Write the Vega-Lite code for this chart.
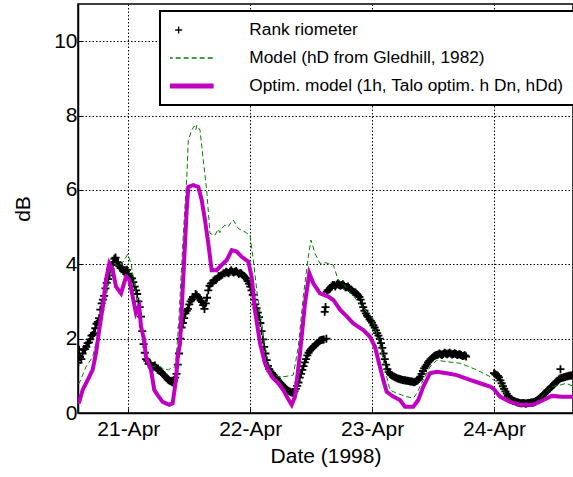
{
"$schema": "https://vega.github.io/schema/vega-lite/v6.json",
"width": 495, "height": 409,
"autosize": {"type": "none"},
"padding": {"left": 78, "top": 4, "right": 0, "bottom": 64},
"background": "white",
"config": {
  "font": "Liberation Sans",
  "view": {"stroke": "black", "strokeWidth": 1.5},
  "axis": {"labelFont": "Liberation Sans", "titleFont": "Liberation Sans", "labelColor": "black", "titleColor": "black", "labelFontSize": 21, "titleFontSize": 21, "titleFontWeight": "normal", "domainColor": "black", "domainWidth": 1.5, "tickColor": "black", "tickSize": -5, "gridColor": "black", "gridDash": [1.5, 2], "gridOpacity": 1, "gridWidth": 1}
},
"data": {"values": [
{"s":"R","t":"1998-04-20T14:10","v":1.35},{"s":"R","t":"1998-04-20T14:20","v":1.70},
{"s":"R","t":"1998-04-20T14:30","v":1.50},{"s":"R","t":"1998-04-20T15:00","v":1.60},{"s":"R","t":"1998-04-20T15:30","v":1.72},{"s":"R","t":"1998-04-20T16:00","v":1.88},{"s":"R","t":"1998-04-20T16:30","v":1.98},{"s":"R","t":"1998-04-20T17:00","v":2.10},{"s":"R","t":"1998-04-20T17:30","v":2.28},{"s":"R","t":"1998-04-20T18:00","v":2.45},{"s":"R","t":"1998-04-20T18:30","v":2.78},{"s":"R","t":"1998-04-20T19:00","v":3.05},{"s":"R","t":"1998-04-20T19:30","v":3.35},{"s":"R","t":"1998-04-20T20:00","v":3.60},{"s":"R","t":"1998-04-20T20:30","v":3.88},{"s":"R","t":"1998-04-20T21:00","v":4.05},{"s":"R","t":"1998-04-20T21:30","v":4.18},{"s":"R","t":"1998-04-20T22:00","v":4.05},{"s":"R","t":"1998-04-20T22:30","v":3.90},{"s":"R","t":"1998-04-20T23:00","v":3.82},{"s":"R","t":"1998-04-20T23:30","v":3.80},
{"s":"R","t":"1998-04-20T14:45","v":1.45},{"s":"R","t":"1998-04-20T15:15","v":1.72},{"s":"R","t":"1998-04-20T15:45","v":1.78},{"s":"R","t":"1998-04-20T16:15","v":1.90},{"s":"R","t":"1998-04-20T16:45","v":2.08},{"s":"R","t":"1998-04-20T17:15","v":2.15},{"s":"R","t":"1998-04-20T17:45","v":2.40},{"s":"R","t":"1998-04-20T18:15","v":2.55},{"s":"R","t":"1998-04-20T18:45","v":2.95},{"s":"R","t":"1998-04-20T19:15","v":3.15},{"s":"R","t":"1998-04-20T19:45","v":3.50},{"s":"R","t":"1998-04-20T20:15","v":3.70},{"s":"R","t":"1998-04-20T20:45","v":3.98},{"s":"R","t":"1998-04-20T21:15","v":4.15},{"s":"R","t":"1998-04-20T21:45","v":4.05},{"s":"R","t":"1998-04-20T22:15","v":3.95},{"s":"R","t":"1998-04-20T22:45","v":3.92},{"s":"R","t":"1998-04-20T23:15","v":3.78},{"s":"R","t":"1998-04-20T23:45","v":3.85},
{"s":"R","t":"1998-04-21T00:00","v":3.75},{"s":"R","t":"1998-04-21T00:30","v":3.62},{"s":"R","t":"1998-04-21T01:00","v":3.52},{"s":"R","t":"1998-04-21T01:30","v":3.30},{"s":"R","t":"1998-04-21T02:00","v":3.00},{"s":"R","t":"1998-04-21T02:30","v":2.59},{"s":"R","t":"1998-04-21T03:00","v":1.85},{"s":"R","t":"1998-04-21T03:30","v":1.45},{"s":"R","t":"1998-04-21T04:00","v":1.32},{"s":"R","t":"1998-04-21T04:30","v":1.28},{"s":"R","t":"1998-04-21T05:00","v":1.26},{"s":"R","t":"1998-04-21T05:30","v":1.22},{"s":"R","t":"1998-04-21T06:00","v":1.15},{"s":"R","t":"1998-04-21T06:30","v":1.10},{"s":"R","t":"1998-04-21T07:00","v":1.02},{"s":"R","t":"1998-04-21T07:30","v":0.95},{"s":"R","t":"1998-04-21T08:00","v":0.88},{"s":"R","t":"1998-04-21T08:30","v":0.84},{"s":"R","t":"1998-04-21T09:00","v":0.88},{"s":"R","t":"1998-04-21T09:30","v":1.05},{"s":"R","t":"1998-04-21T10:00","v":1.60},{"s":"R","t":"1998-04-21T10:30","v":2.30},{"s":"R","t":"1998-04-21T11:00","v":2.55},{"s":"R","t":"1998-04-21T11:30","v":2.75},{"s":"R","t":"1998-04-21T12:00","v":2.92},{"s":"R","t":"1998-04-21T12:30","v":3.06},{"s":"R","t":"1998-04-21T13:00","v":3.12},{"s":"R","t":"1998-04-21T13:30","v":3.17},{"s":"R","t":"1998-04-21T14:00","v":3.08},{"s":"R","t":"1998-04-21T14:30","v":2.98},{"s":"R","t":"1998-04-21T15:00","v":2.80},{"s":"R","t":"1998-04-21T15:30","v":3.10},{"s":"R","t":"1998-04-21T16:00","v":3.42},{"s":"R","t":"1998-04-21T16:30","v":3.50},{"s":"R","t":"1998-04-21T17:00","v":3.57},{"s":"R","t":"1998-04-21T17:30","v":3.62},{"s":"R","t":"1998-04-21T18:00","v":3.68},{"s":"R","t":"1998-04-21T18:30","v":3.72},{"s":"R","t":"1998-04-21T19:00","v":3.76},{"s":"R","t":"1998-04-21T19:30","v":3.78},{"s":"R","t":"1998-04-21T20:00","v":3.80},{"s":"R","t":"1998-04-21T20:30","v":3.80},{"s":"R","t":"1998-04-21T21:00","v":3.80},{"s":"R","t":"1998-04-21T21:30","v":3.78},{"s":"R","t":"1998-04-21T22:00","v":3.76},{"s":"R","t":"1998-04-21T22:30","v":3.72},{"s":"R","t":"1998-04-21T23:00","v":3.65},{"s":"R","t":"1998-04-21T23:30","v":3.55},
{"s":"R","t":"1998-04-21T00:15","v":3.66},{"s":"R","t":"1998-04-21T00:45","v":3.62},{"s":"R","t":"1998-04-21T01:15","v":3.40},{"s":"R","t":"1998-04-21T01:45","v":3.20},{"s":"R","t":"1998-04-21T02:15","v":2.85},{"s":"R","t":"1998-04-21T02:45","v":2.20},{"s":"R","t":"1998-04-21T03:15","v":1.62},{"s":"R","t":"1998-04-21T03:45","v":1.40},{"s":"R","t":"1998-04-21T04:15","v":1.35},{"s":"R","t":"1998-04-21T04:45","v":1.22},{"s":"R","t":"1998-04-21T05:15","v":1.28},{"s":"R","t":"1998-04-21T05:45","v":1.16},{"s":"R","t":"1998-04-21T06:15","v":1.14},{"s":"R","t":"1998-04-21T06:45","v":1.05},{"s":"R","t":"1998-04-21T07:15","v":0.99},{"s":"R","t":"1998-04-21T07:45","v":0.90},{"s":"R","t":"1998-04-21T08:15","v":0.86},{"s":"R","t":"1998-04-21T08:45","v":0.82},{"s":"R","t":"1998-04-21T09:15","v":0.95},{"s":"R","t":"1998-04-21T09:45","v":1.30},{"s":"R","t":"1998-04-21T10:15","v":2.00},{"s":"R","t":"1998-04-21T10:45","v":2.42},{"s":"R","t":"1998-04-21T11:15","v":2.68},{"s":"R","t":"1998-04-21T11:45","v":2.80},{"s":"R","t":"1998-04-21T12:15","v":3.00},{"s":"R","t":"1998-04-21T12:45","v":3.12},{"s":"R","t":"1998-04-21T13:15","v":3.20},{"s":"R","t":"1998-04-21T13:45","v":3.12},{"s":"R","t":"1998-04-21T14:15","v":3.02},{"s":"R","t":"1998-04-21T14:45","v":2.90},{"s":"R","t":"1998-04-21T15:15","v":2.95},{"s":"R","t":"1998-04-21T15:45","v":3.30},{"s":"R","t":"1998-04-21T16:15","v":3.48},{"s":"R","t":"1998-04-21T16:45","v":3.56},{"s":"R","t":"1998-04-21T17:15","v":3.58},{"s":"R","t":"1998-04-21T17:45","v":3.68},{"s":"R","t":"1998-04-21T18:15","v":3.70},{"s":"R","t":"1998-04-21T18:45","v":3.76},{"s":"R","t":"1998-04-21T19:15","v":3.80},{"s":"R","t":"1998-04-21T19:45","v":3.76},{"s":"R","t":"1998-04-21T20:15","v":3.84},{"s":"R","t":"1998-04-21T20:45","v":3.78},{"s":"R","t":"1998-04-21T21:15","v":3.82},{"s":"R","t":"1998-04-21T21:45","v":3.74},{"s":"R","t":"1998-04-21T22:15","v":3.76},{"s":"R","t":"1998-04-21T22:45","v":3.68},{"s":"R","t":"1998-04-21T23:15","v":3.62},{"s":"R","t":"1998-04-21T23:45","v":3.48},
{"s":"R","t":"1998-04-22T00:00","v":3.40},{"s":"R","t":"1998-04-22T00:30","v":3.18},{"s":"R","t":"1998-04-22T01:00","v":2.92},{"s":"R","t":"1998-04-22T01:30","v":2.70},{"s":"R","t":"1998-04-22T02:00","v":2.42},{"s":"R","t":"1998-04-22T02:30","v":1.98},{"s":"R","t":"1998-04-22T03:00","v":1.60},{"s":"R","t":"1998-04-22T03:30","v":1.27},{"s":"R","t":"1998-04-22T04:00","v":1.12},{"s":"R","t":"1998-04-22T04:30","v":1.03},{"s":"R","t":"1998-04-22T05:00","v":0.96},{"s":"R","t":"1998-04-22T05:30","v":0.88},{"s":"R","t":"1998-04-22T06:00","v":0.79},{"s":"R","t":"1998-04-22T06:30","v":0.72},{"s":"R","t":"1998-04-22T07:00","v":0.65},{"s":"R","t":"1998-04-22T07:30","v":0.60},{"s":"R","t":"1998-04-22T08:00","v":0.56},{"s":"R","t":"1998-04-22T08:30","v":0.53},{"s":"R","t":"1998-04-22T09:00","v":0.65},{"s":"R","t":"1998-04-22T09:30","v":0.82},{"s":"R","t":"1998-04-22T10:00","v":1.05},{"s":"R","t":"1998-04-22T10:30","v":1.26},{"s":"R","t":"1998-04-22T11:00","v":1.45},{"s":"R","t":"1998-04-22T11:30","v":1.62},{"s":"R","t":"1998-04-22T12:00","v":1.72},{"s":"R","t":"1998-04-22T12:30","v":1.79},{"s":"R","t":"1998-04-22T13:00","v":1.85},{"s":"R","t":"1998-04-22T13:30","v":1.92},{"s":"R","t":"1998-04-22T14:00","v":1.96},{"s":"R","t":"1998-04-22T14:30","v":1.98},{"s":"R","t":"1998-04-22T15:00","v":2.00},
{"s":"R","t":"1998-04-22T00:15","v":3.30},{"s":"R","t":"1998-04-22T00:45","v":3.05},{"s":"R","t":"1998-04-22T01:15","v":2.82},{"s":"R","t":"1998-04-22T01:45","v":2.58},{"s":"R","t":"1998-04-22T02:15","v":2.20},{"s":"R","t":"1998-04-22T02:45","v":1.78},{"s":"R","t":"1998-04-22T03:15","v":1.42},{"s":"R","t":"1998-04-22T03:45","v":1.18},{"s":"R","t":"1998-04-22T04:15","v":1.08},{"s":"R","t":"1998-04-22T04:45","v":0.98},{"s":"R","t":"1998-04-22T05:15","v":0.93},{"s":"R","t":"1998-04-22T05:45","v":0.83},{"s":"R","t":"1998-04-22T06:15","v":0.76},{"s":"R","t":"1998-04-22T06:45","v":0.68},{"s":"R","t":"1998-04-22T07:15","v":0.62},{"s":"R","t":"1998-04-22T07:45","v":0.58},{"s":"R","t":"1998-04-22T08:15","v":0.55},{"s":"R","t":"1998-04-22T08:45","v":0.58},{"s":"R","t":"1998-04-22T09:15","v":0.73},{"s":"R","t":"1998-04-22T09:45","v":0.95},{"s":"R","t":"1998-04-22T10:15","v":1.16},{"s":"R","t":"1998-04-22T10:45","v":1.36},{"s":"R","t":"1998-04-22T11:15","v":1.55},{"s":"R","t":"1998-04-22T11:45","v":1.68},{"s":"R","t":"1998-04-22T12:15","v":1.76},{"s":"R","t":"1998-04-22T12:45","v":1.82},{"s":"R","t":"1998-04-22T13:15","v":1.88},{"s":"R","t":"1998-04-22T13:45","v":1.95},{"s":"R","t":"1998-04-22T14:15","v":1.97},
{"s":"R","t":"1998-04-22T14:40","v":2.72},{"s":"R","t":"1998-04-22T14:50","v":2.85},{"s":"R","t":"1998-04-22T15:05","v":3.26},{"s":"R","t":"1998-04-22T15:30","v":3.32},{"s":"R","t":"1998-04-22T16:00","v":3.40},{"s":"R","t":"1998-04-22T16:30","v":3.44},{"s":"R","t":"1998-04-22T17:00","v":3.45},{"s":"R","t":"1998-04-22T17:30","v":3.44},{"s":"R","t":"1998-04-22T18:00","v":3.44},{"s":"R","t":"1998-04-22T18:30","v":3.42},{"s":"R","t":"1998-04-22T19:00","v":3.38},{"s":"R","t":"1998-04-22T19:30","v":3.36},{"s":"R","t":"1998-04-22T20:00","v":3.30},{"s":"R","t":"1998-04-22T20:30","v":3.25},{"s":"R","t":"1998-04-22T21:00","v":3.20},{"s":"R","t":"1998-04-22T21:30","v":3.12},{"s":"R","t":"1998-04-22T22:00","v":2.95},{"s":"R","t":"1998-04-22T22:30","v":2.75},{"s":"R","t":"1998-04-22T23:00","v":2.62},{"s":"R","t":"1998-04-22T23:30","v":2.52},
{"s":"R","t":"1998-04-22T15:15","v":3.30},{"s":"R","t":"1998-04-22T15:45","v":3.36},{"s":"R","t":"1998-04-22T16:15","v":3.44},{"s":"R","t":"1998-04-22T16:45","v":3.40},{"s":"R","t":"1998-04-22T17:15","v":3.48},{"s":"R","t":"1998-04-22T17:45","v":3.42},{"s":"R","t":"1998-04-22T18:15","v":3.46},{"s":"R","t":"1998-04-22T18:45","v":3.38},{"s":"R","t":"1998-04-22T19:15","v":3.40},{"s":"R","t":"1998-04-22T19:45","v":3.32},{"s":"R","t":"1998-04-22T20:15","v":3.26},{"s":"R","t":"1998-04-22T20:45","v":3.24},{"s":"R","t":"1998-04-22T21:15","v":3.16},{"s":"R","t":"1998-04-22T21:45","v":3.05},{"s":"R","t":"1998-04-22T22:15","v":2.85},{"s":"R","t":"1998-04-22T22:45","v":2.68},{"s":"R","t":"1998-04-22T23:15","v":2.58},{"s":"R","t":"1998-04-22T23:45","v":2.48},
{"s":"R","t":"1998-04-23T00:00","v":2.43},{"s":"R","t":"1998-04-23T00:30","v":2.30},{"s":"R","t":"1998-04-23T01:00","v":2.15},{"s":"R","t":"1998-04-23T01:30","v":2.00},{"s":"R","t":"1998-04-23T02:00","v":1.75},{"s":"R","t":"1998-04-23T02:30","v":1.45},{"s":"R","t":"1998-04-23T03:00","v":1.18},{"s":"R","t":"1998-04-23T03:30","v":1.05},{"s":"R","t":"1998-04-23T04:00","v":1.00},{"s":"R","t":"1998-04-23T04:30","v":0.96},{"s":"R","t":"1998-04-23T05:00","v":0.93},{"s":"R","t":"1998-04-23T05:30","v":0.91},{"s":"R","t":"1998-04-23T06:00","v":0.89},{"s":"R","t":"1998-04-23T06:30","v":0.88},{"s":"R","t":"1998-04-23T07:00","v":0.87},{"s":"R","t":"1998-04-23T07:30","v":0.85},{"s":"R","t":"1998-04-23T08:00","v":0.84},{"s":"R","t":"1998-04-23T08:30","v":0.84},{"s":"R","t":"1998-04-23T09:00","v":0.88},{"s":"R","t":"1998-04-23T09:30","v":0.98},{"s":"R","t":"1998-04-23T10:00","v":1.13},{"s":"R","t":"1998-04-23T10:30","v":1.25},{"s":"R","t":"1998-04-23T11:00","v":1.36},{"s":"R","t":"1998-04-23T11:30","v":1.44},{"s":"R","t":"1998-04-23T12:00","v":1.50},{"s":"R","t":"1998-04-23T12:30","v":1.55},{"s":"R","t":"1998-04-23T13:00","v":1.57},{"s":"R","t":"1998-04-23T13:30","v":1.58},{"s":"R","t":"1998-04-23T14:00","v":1.59},{"s":"R","t":"1998-04-23T14:30","v":1.60},{"s":"R","t":"1998-04-23T15:00","v":1.60},{"s":"R","t":"1998-04-23T15:30","v":1.60},{"s":"R","t":"1998-04-23T16:00","v":1.59},{"s":"R","t":"1998-04-23T16:30","v":1.59},{"s":"R","t":"1998-04-23T17:00","v":1.57},{"s":"R","t":"1998-04-23T17:30","v":1.56},{"s":"R","t":"1998-04-23T18:00","v":1.54},{"s":"R","t":"1998-04-23T18:30","v":1.52},
{"s":"R","t":"1998-04-23T00:15","v":2.36},{"s":"R","t":"1998-04-23T00:45","v":2.22},{"s":"R","t":"1998-04-23T01:15","v":2.08},{"s":"R","t":"1998-04-23T01:45","v":1.88},{"s":"R","t":"1998-04-23T02:15","v":1.60},{"s":"R","t":"1998-04-23T02:45","v":1.30},{"s":"R","t":"1998-04-23T03:15","v":1.10},{"s":"R","t":"1998-04-23T03:45","v":1.02},{"s":"R","t":"1998-04-23T04:15","v":0.98},{"s":"R","t":"1998-04-23T04:45","v":0.95},{"s":"R","t":"1998-04-23T05:15","v":0.92},{"s":"R","t":"1998-04-23T05:45","v":0.90},{"s":"R","t":"1998-04-23T06:15","v":0.88},{"s":"R","t":"1998-04-23T06:45","v":0.87},{"s":"R","t":"1998-04-23T07:15","v":0.86},{"s":"R","t":"1998-04-23T07:45","v":0.85},{"s":"R","t":"1998-04-23T08:15","v":0.83},{"s":"R","t":"1998-04-23T08:45","v":0.86},{"s":"R","t":"1998-04-23T09:15","v":0.92},{"s":"R","t":"1998-04-23T09:45","v":1.05},{"s":"R","t":"1998-04-23T10:15","v":1.20},{"s":"R","t":"1998-04-23T10:45","v":1.30},{"s":"R","t":"1998-04-23T11:15","v":1.40},{"s":"R","t":"1998-04-23T11:45","v":1.47},{"s":"R","t":"1998-04-23T12:15","v":1.53},{"s":"R","t":"1998-04-23T12:45","v":1.56},{"s":"R","t":"1998-04-23T13:15","v":1.60},{"s":"R","t":"1998-04-23T13:45","v":1.56},{"s":"R","t":"1998-04-23T14:15","v":1.62},{"s":"R","t":"1998-04-23T14:45","v":1.58},{"s":"R","t":"1998-04-23T15:15","v":1.62},{"s":"R","t":"1998-04-23T15:45","v":1.57},{"s":"R","t":"1998-04-23T16:15","v":1.61},{"s":"R","t":"1998-04-23T16:45","v":1.56},{"s":"R","t":"1998-04-23T17:15","v":1.58},{"s":"R","t":"1998-04-23T17:45","v":1.53},{"s":"R","t":"1998-04-23T18:15","v":1.55},
{"s":"R","t":"1998-04-24T00:00","v":1.07},{"s":"R","t":"1998-04-24T00:30","v":1.02},{"s":"R","t":"1998-04-24T01:00","v":0.96},{"s":"R","t":"1998-04-24T01:30","v":0.80},{"s":"R","t":"1998-04-24T02:00","v":0.65},{"s":"R","t":"1998-04-24T02:30","v":0.52},{"s":"R","t":"1998-04-24T03:00","v":0.42},{"s":"R","t":"1998-04-24T03:30","v":0.36},{"s":"R","t":"1998-04-24T04:00","v":0.32},{"s":"R","t":"1998-04-24T04:30","v":0.29},{"s":"R","t":"1998-04-24T05:00","v":0.27},{"s":"R","t":"1998-04-24T05:30","v":0.26},{"s":"R","t":"1998-04-24T06:00","v":0.26},{"s":"R","t":"1998-04-24T06:30","v":0.26},{"s":"R","t":"1998-04-24T07:00","v":0.27},{"s":"R","t":"1998-04-24T07:30","v":0.28},{"s":"R","t":"1998-04-24T08:00","v":0.30},{"s":"R","t":"1998-04-24T08:30","v":0.34},{"s":"R","t":"1998-04-24T09:00","v":0.40},{"s":"R","t":"1998-04-24T09:30","v":0.46},{"s":"R","t":"1998-04-24T10:00","v":0.53},{"s":"R","t":"1998-04-24T10:30","v":0.60},{"s":"R","t":"1998-04-24T11:00","v":0.66},{"s":"R","t":"1998-04-24T11:30","v":0.73},{"s":"R","t":"1998-04-24T12:00","v":0.80},{"s":"R","t":"1998-04-24T12:30","v":0.87},{"s":"R","t":"1998-04-24T13:00","v":0.93},{"s":"R","t":"1998-04-24T13:05","v":1.18},{"s":"R","t":"1998-04-24T13:30","v":0.95},{"s":"R","t":"1998-04-24T14:00","v":0.97},{"s":"R","t":"1998-04-24T14:30","v":0.99},{"s":"R","t":"1998-04-24T15:00","v":1.00},{"s":"R","t":"1998-04-24T15:30","v":1.02},
{"s":"R","t":"1998-04-24T00:15","v":1.04},{"s":"R","t":"1998-04-24T00:45","v":1.00},{"s":"R","t":"1998-04-24T01:15","v":0.88},{"s":"R","t":"1998-04-24T01:45","v":0.72},{"s":"R","t":"1998-04-24T02:15","v":0.58},{"s":"R","t":"1998-04-24T02:45","v":0.46},{"s":"R","t":"1998-04-24T03:15","v":0.38},{"s":"R","t":"1998-04-24T03:45","v":0.33},{"s":"R","t":"1998-04-24T04:15","v":0.30},{"s":"R","t":"1998-04-24T04:45","v":0.28},{"s":"R","t":"1998-04-24T05:15","v":0.26},{"s":"R","t":"1998-04-24T05:45","v":0.27},{"s":"R","t":"1998-04-24T06:15","v":0.25},{"s":"R","t":"1998-04-24T06:45","v":0.27},{"s":"R","t":"1998-04-24T07:15","v":0.28},{"s":"R","t":"1998-04-24T07:45","v":0.29},{"s":"R","t":"1998-04-24T08:15","v":0.32},{"s":"R","t":"1998-04-24T08:45","v":0.37},{"s":"R","t":"1998-04-24T09:15","v":0.43},{"s":"R","t":"1998-04-24T09:45","v":0.50},{"s":"R","t":"1998-04-24T10:15","v":0.56},{"s":"R","t":"1998-04-24T10:45","v":0.63},{"s":"R","t":"1998-04-24T11:15","v":0.70},{"s":"R","t":"1998-04-24T11:45","v":0.76},{"s":"R","t":"1998-04-24T12:15","v":0.84},{"s":"R","t":"1998-04-24T12:45","v":0.90},{"s":"R","t":"1998-04-24T13:15","v":0.94},{"s":"R","t":"1998-04-24T13:45","v":0.96},{"s":"R","t":"1998-04-24T14:15","v":0.98},{"s":"R","t":"1998-04-24T14:45","v":1.00},{"s":"R","t":"1998-04-24T15:15","v":1.01},
{"s":"M","t":"1998-04-20T14:06","v":0.78},{"s":"M","t":"1998-04-20T14:21","v":0.80},{"s":"M","t":"1998-04-20T15:40","v":1.24},{"s":"M","t":"1998-04-20T16:59","v":1.51},{"s":"M","t":"1998-04-20T18:17","v":2.23},{"s":"M","t":"1998-04-20T19:37","v":3.13},{"s":"M","t":"1998-04-20T20:35","v":3.76},{"s":"M","t":"1998-04-20T21:14","v":4.03},{"s":"M","t":"1998-04-20T22:14","v":3.93},{"s":"M","t":"1998-04-20T23:13","v":4.11},{"s":"M","t":"1998-04-20T23:53","v":4.27},
{"s":"M","t":"1998-04-21T00:32","v":4.02},{"s":"M","t":"1998-04-21T01:11","v":3.49},{"s":"M","t":"1998-04-21T01:51","v":2.86},{"s":"M","t":"1998-04-21T02:50","v":1.96},{"s":"M","t":"1998-04-21T03:49","v":1.42},{"s":"M","t":"1998-04-21T04:48","v":1.24},{"s":"M","t":"1998-04-21T05:48","v":1.28},{"s":"M","t":"1998-04-21T06:46","v":1.20},{"s":"M","t":"1998-04-21T07:53","v":1.16},{"s":"M","t":"1998-04-21T08:36","v":1.22},{"s":"M","t":"1998-04-21T09:11","v":1.24},{"s":"M","t":"1998-04-21T09:24","v":1.45},{"s":"M","t":"1998-04-21T09:54","v":2.35},{"s":"M","t":"1998-04-21T10:24","v":3.70},{"s":"M","t":"1998-04-21T11:00","v":5.20},{"s":"M","t":"1998-04-21T11:30","v":6.30},{"s":"M","t":"1998-04-21T11:49","v":7.34},{"s":"M","t":"1998-04-21T12:29","v":7.61},{"s":"M","t":"1998-04-21T13:00","v":7.72},{"s":"M","t":"1998-04-21T13:18","v":7.62},{"s":"M","t":"1998-04-21T13:28","v":7.74},{"s":"M","t":"1998-04-21T14:07","v":7.61},{"s":"M","t":"1998-04-21T14:46","v":6.80},{"s":"M","t":"1998-04-21T15:26","v":5.99},{"s":"M","t":"1998-04-21T16:05","v":4.83},{"s":"M","t":"1998-04-21T17:04","v":4.78},{"s":"M","t":"1998-04-21T17:42","v":4.95},{"s":"M","t":"1998-04-21T18:00","v":4.85},{"s":"M","t":"1998-04-21T18:23","v":4.96},{"s":"M","t":"1998-04-21T19:00","v":5.05},{"s":"M","t":"1998-04-21T19:41","v":5.01},{"s":"M","t":"1998-04-21T20:12","v":5.12},{"s":"M","t":"1998-04-21T20:40","v":5.19},{"s":"M","t":"1998-04-21T21:40","v":4.96},{"s":"M","t":"1998-04-21T22:59","v":4.87},{"s":"M","t":"1998-04-21T23:58","v":4.78},
{"s":"M","t":"1998-04-22T00:37","v":4.11},{"s":"M","t":"1998-04-22T01:17","v":3.31},{"s":"M","t":"1998-04-22T02:16","v":2.41},{"s":"M","t":"1998-04-22T03:15","v":1.51},{"s":"M","t":"1998-04-22T04:14","v":1.07},{"s":"M","t":"1998-04-22T05:32","v":0.98},{"s":"M","t":"1998-04-22T06:51","v":0.98},{"s":"M","t":"1998-04-22T08:29","v":1.02},{"s":"M","t":"1998-04-22T09:28","v":1.78},{"s":"M","t":"1998-04-22T10:27","v":3.13},{"s":"M","t":"1998-04-22T11:26","v":4.20},{"s":"M","t":"1998-04-22T11:58","v":4.65},{"s":"M","t":"1998-04-22T12:46","v":4.29},{"s":"M","t":"1998-04-22T13:44","v":4.02},{"s":"M","t":"1998-04-22T14:30","v":4.05},{"s":"M","t":"1998-04-22T15:23","v":4.02},{"s":"M","t":"1998-04-22T16:22","v":3.98},{"s":"M","t":"1998-04-22T17:20","v":3.58},{"s":"M","t":"1998-04-22T18:12","v":3.50},{"s":"M","t":"1998-04-22T19:00","v":3.35},{"s":"M","t":"1998-04-22T20:58","v":3.04},{"s":"M","t":"1998-04-22T22:36","v":2.77},{"s":"M","t":"1998-04-22T23:55","v":2.59},
{"s":"M","t":"1998-04-23T00:55","v":2.14},{"s":"M","t":"1998-04-23T02:12","v":1.42},{"s":"M","t":"1998-04-23T02:52","v":0.98},{"s":"M","t":"1998-04-23T03:31","v":0.62},{"s":"M","t":"1998-04-23T04:50","v":0.53},{"s":"M","t":"1998-04-23T06:49","v":0.44},{"s":"M","t":"1998-04-23T08:07","v":0.40},{"s":"M","t":"1998-04-23T08:47","v":0.53},{"s":"M","t":"1998-04-23T10:05","v":0.89},{"s":"M","t":"1998-04-23T11:24","v":1.24},{"s":"M","t":"1998-04-23T12:43","v":1.42},{"s":"M","t":"1998-04-23T14:41","v":1.38},{"s":"M","t":"1998-04-23T17:19","v":1.34},{"s":"M","t":"1998-04-23T20:35","v":1.16},{"s":"M","t":"1998-04-23T23:13","v":0.98},{"s":"M","t":"1998-04-23T23:52","v":0.89},
{"s":"M","t":"1998-04-24T01:11","v":0.80},{"s":"M","t":"1998-04-24T02:29","v":0.44},{"s":"M","t":"1998-04-24T04:28","v":0.22},{"s":"M","t":"1998-04-24T06:26","v":0.17},{"s":"M","t":"1998-04-24T08:04","v":0.26},{"s":"M","t":"1998-04-24T09:43","v":0.48},{"s":"M","t":"1998-04-24T11:22","v":0.71},{"s":"M","t":"1998-04-24T13:00","v":0.75},{"s":"M","t":"1998-04-24T14:12","v":0.80},{"s":"M","t":"1998-04-24T15:33","v":0.72},
{"s":"O","t":"1998-04-20T14:06","v":0.30},{"s":"O","t":"1998-04-20T14:21","v":0.30},{"s":"O","t":"1998-04-20T15:01","v":0.62},{"s":"O","t":"1998-04-20T16:01","v":0.89},{"s":"O","t":"1998-04-20T16:59","v":1.16},{"s":"O","t":"1998-04-20T17:38","v":1.60},{"s":"O","t":"1998-04-20T18:17","v":2.23},{"s":"O","t":"1998-04-20T18:58","v":2.86},{"s":"O","t":"1998-04-20T19:37","v":3.58},{"s":"O","t":"1998-04-20T20:16","v":4.02},{"s":"O","t":"1998-04-20T20:56","v":3.84},{"s":"O","t":"1998-04-20T21:35","v":3.40},{"s":"O","t":"1998-04-20T22:34","v":3.22},{"s":"O","t":"1998-04-20T23:33","v":3.66},
{"s":"O","t":"1998-04-21T00:12","v":3.58},{"s":"O","t":"1998-04-21T00:52","v":3.13},{"s":"O","t":"1998-04-21T01:31","v":2.68},{"s":"O","t":"1998-04-21T02:10","v":2.86},{"s":"O","t":"1998-04-21T02:30","v":2.32},{"s":"O","t":"1998-04-21T03:09","v":1.96},{"s":"O","t":"1998-04-21T03:29","v":1.51},{"s":"O","t":"1998-04-21T04:28","v":1.16},{"s":"O","t":"1998-04-21T05:07","v":0.62},{"s":"O","t":"1998-04-21T05:47","v":0.48},{"s":"O","t":"1998-04-21T06:46","v":0.30},{"s":"O","t":"1998-04-21T08:04","v":0.22},{"s":"O","t":"1998-04-21T08:44","v":0.26},{"s":"O","t":"1998-04-21T09:23","v":0.89},{"s":"O","t":"1998-04-21T09:44","v":1.51},{"s":"O","t":"1998-04-21T10:11","v":1.87},{"s":"O","t":"1998-04-21T10:50","v":3.66},{"s":"O","t":"1998-04-21T11:30","v":5.46},{"s":"O","t":"1998-04-21T11:49","v":6.08},{"s":"O","t":"1998-04-21T12:48","v":6.13},{"s":"O","t":"1998-04-21T13:47","v":6.08},{"s":"O","t":"1998-04-21T14:27","v":5.73},{"s":"O","t":"1998-04-21T15:06","v":5.19},{"s":"O","t":"1998-04-21T15:45","v":4.56},{"s":"O","t":"1998-04-21T16:25","v":3.84},{"s":"O","t":"1998-04-21T17:24","v":3.84},{"s":"O","t":"1998-04-21T18:23","v":3.98},{"s":"O","t":"1998-04-21T19:22","v":4.11},{"s":"O","t":"1998-04-21T20:22","v":4.38},{"s":"O","t":"1998-04-21T21:20","v":4.34},{"s":"O","t":"1998-04-21T22:20","v":4.20},{"s":"O","t":"1998-04-21T23:38","v":4.07},
{"s":"O","t":"1998-04-22T00:17","v":3.66},{"s":"O","t":"1998-04-22T00:56","v":2.77},{"s":"O","t":"1998-04-22T01:56","v":1.87},{"s":"O","t":"1998-04-22T02:55","v":1.34},{"s":"O","t":"1998-04-22T04:14","v":0.98},{"s":"O","t":"1998-04-22T05:32","v":0.80},{"s":"O","t":"1998-04-22T06:31","v":0.62},{"s":"O","t":"1998-04-22T07:11","v":0.44},{"s":"O","t":"1998-04-22T08:10","v":0.22},{"s":"O","t":"1998-04-22T08:49","v":0.44},{"s":"O","t":"1998-04-22T09:48","v":1.60},{"s":"O","t":"1998-04-22T10:47","v":2.95},{"s":"O","t":"1998-04-22T11:38","v":3.76},{"s":"O","t":"1998-04-22T12:25","v":3.49},{"s":"O","t":"1998-04-22T13:44","v":3.22},{"s":"O","t":"1998-04-22T15:23","v":3.13},{"s":"O","t":"1998-04-22T16:22","v":3.04},{"s":"O","t":"1998-04-22T17:44","v":2.77},{"s":"O","t":"1998-04-22T19:03","v":2.59},{"s":"O","t":"1998-04-22T20:18","v":2.41},{"s":"O","t":"1998-04-22T22:16","v":2.23},{"s":"O","t":"1998-04-22T23:35","v":2.05},
{"s":"O","t":"1998-04-23T00:34","v":1.78},{"s":"O","t":"1998-04-23T01:33","v":1.24},{"s":"O","t":"1998-04-23T02:12","v":0.89},{"s":"O","t":"1998-04-23T02:52","v":0.57},{"s":"O","t":"1998-04-23T04:10","v":0.44},{"s":"O","t":"1998-04-23T05:29","v":0.35},{"s":"O","t":"1998-04-23T06:28","v":0.17},{"s":"O","t":"1998-04-23T08:07","v":0.17},{"s":"O","t":"1998-04-23T09:05","v":0.35},{"s":"O","t":"1998-04-23T10:05","v":0.71},{"s":"O","t":"1998-04-23T11:24","v":1.07},{"s":"O","t":"1998-04-23T12:43","v":1.11},{"s":"O","t":"1998-04-23T14:41","v":1.07},{"s":"O","t":"1998-04-23T16:39","v":1.02},{"s":"O","t":"1998-04-23T19:16","v":0.89},{"s":"O","t":"1998-04-23T21:14","v":0.80},{"s":"O","t":"1998-04-23T23:13","v":0.71},{"s":"O","t":"1998-04-23T23:52","v":0.66},
{"s":"O","t":"1998-04-24T01:11","v":0.44},{"s":"O","t":"1998-04-24T03:09","v":0.30},{"s":"O","t":"1998-04-24T05:07","v":0.22},{"s":"O","t":"1998-04-24T07:44","v":0.22},{"s":"O","t":"1998-04-24T09:43","v":0.35},{"s":"O","t":"1998-04-24T11:22","v":0.46},{"s":"O","t":"1998-04-24T13:20","v":0.44},{"s":"O","t":"1998-04-24T15:33","v":0.44}
]},
"encoding": {
  "x": {"field": "t", "type": "temporal",
    "scale": {"domain": [{"year": 1998, "month": 4, "date": 20, "hours": 14, "minutes": 6}, {"year": 1998, "month": 4, "date": 24, "hours": 15, "minutes": 33}]},
    "axis": {"title": "Date (1998)", "format": "%d-%b", "grid": true, "labelPadding": 10, "titlePadding": 6,
      "values": [{"year": 1998, "month": 4, "date": 21}, {"year": 1998, "month": 4, "date": 22}, {"year": 1998, "month": 4, "date": 23}, {"year": 1998, "month": 4, "date": 24}]}},
  "y": {"field": "v", "type": "quantitative",
    "scale": {"domain": [0, 11], "nice": false},
    "axis": {"title": "dB", "values": [0, 2, 4, 6, 8, 10], "grid": true, "labelPadding": 6, "titlePadding": 20}},
  "color": {"field": "s", "type": "nominal",
    "scale": {"domain": ["R", "M", "O"], "range": ["black", "#008000", "#c000c0"]},
    "legend": {"orient": "none", "legendX": 82, "legendY": 7, "title": null,
      "labelFont": "Liberation Sans", "labelFontSize": 17.3, "labelColor": "black", "labelLimit": 500, "labelOffset": 62,
      "symbolType": "stroke", "symbolSize": 4900, "clipHeight": 18, "rowPadding": 10, "padding": 10,
      "fillColor": "white", "strokeColor": "black",
      "labelExpr": "datum.value == 'R' ? 'Rank riometer' : datum.value == 'M' ? 'Model (hD from Gledhill, 1982)' : 'Optim. model (1h, Talo optim. h  Dn, hDd)'",
      "encode": {
        "legend": {"update": {"strokeWidth": {"value": 2}}},
        "symbols": {"update": {
          "shape": {"signal": "datum.value == 'R' ? 'M-0.1,0H0.1M0,-0.1V0.1' : 'stroke'"},
          "size": {"value": 4900},
          "fill": {"value": "transparent"},
          "opacity": {"value": 1},
          "strokeDash": {"signal": "datum.value == 'M' ? [5,3] : [1,0]"},
          "strokeWidth": {"signal": "datum.value == 'O' ? 5 : 1.3"}
        }}
      }}}
},
"layer": [
  {"transform": [{"filter": "datum.s == 'R'"}],
   "mark": {"type": "point", "shape": "M-1,0H1M0,-1V1", "filled": false, "size": 64, "strokeWidth": 1.8, "opacity": 1, "clip": true}},
  {"transform": [{"filter": "datum.s == 'M'"}],
   "mark": {"type": "line", "strokeWidth": 1, "strokeDash": [5, 3], "clip": true}},
  {"transform": [{"filter": "datum.s == 'O'"}],
   "mark": {"type": "line", "strokeWidth": 4, "clip": true}}
]
}
